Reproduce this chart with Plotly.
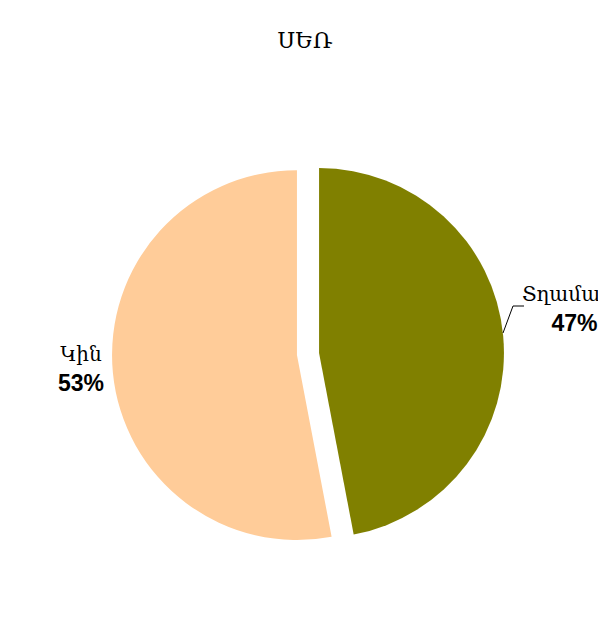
import plotly.graph_objects as go

labels = ["Տղամարդ", "Կին"]
values = [47, 53]
colors = ["#808000", "#FFCC99"]
title = "ՍԵՌ"

W, H = 606, 643
fig = go.Figure(go.Pie(
    labels=labels, values=values, sort=False, direction="clockwise", rotation=0,
    marker=dict(colors=colors, line=dict(width=0)),
    pull=[0.06, 0.06], textinfo="none", hoverinfo="label+percent",
    domain=dict(x=[104 / W, 496 / W], y=[101 / H, 493 / H]),
    showlegend=False,
))

total = sum(values)
pos = [(567, 301), (73, 361)]
anns = []
for (lab, v), (px, py) in zip(zip(labels, values), pos):
    pct = round(100 * v / total)
    anns.append(dict(
        x=px / W, y=1 - py / H, xref="paper", yref="paper", showarrow=False,
        xanchor="center", yanchor="middle", align="center",
        text=f"<span style='font-family:DejaVu Serif;font-size:20px'>{lab}</span><br><b>{pct}%</b>",
        font=dict(family="Liberation Sans, Arial", size=23, color="black"),
    ))

fig.update_layout(
    width=W, height=H, margin=dict(l=0, r=0, t=0, b=0),
    paper_bgcolor="white", plot_bgcolor="white",
    title=dict(text=title, x=297 / W, xanchor="center", y=1 - 32 / H, yanchor="middle",
               font=dict(family="DejaVu Serif", size=22, color="black")),
    annotations=anns,
    shapes=[dict(type="path", xref="paper", yref="paper",
                 path=f"M {495 / W} {1 - 325 / H} L {505 / W} {1 - 298 / H} L {516 / W} {1 - 298 / H}",
                 line=dict(color="black", width=1))],
)
fig.write_html("out.html")
